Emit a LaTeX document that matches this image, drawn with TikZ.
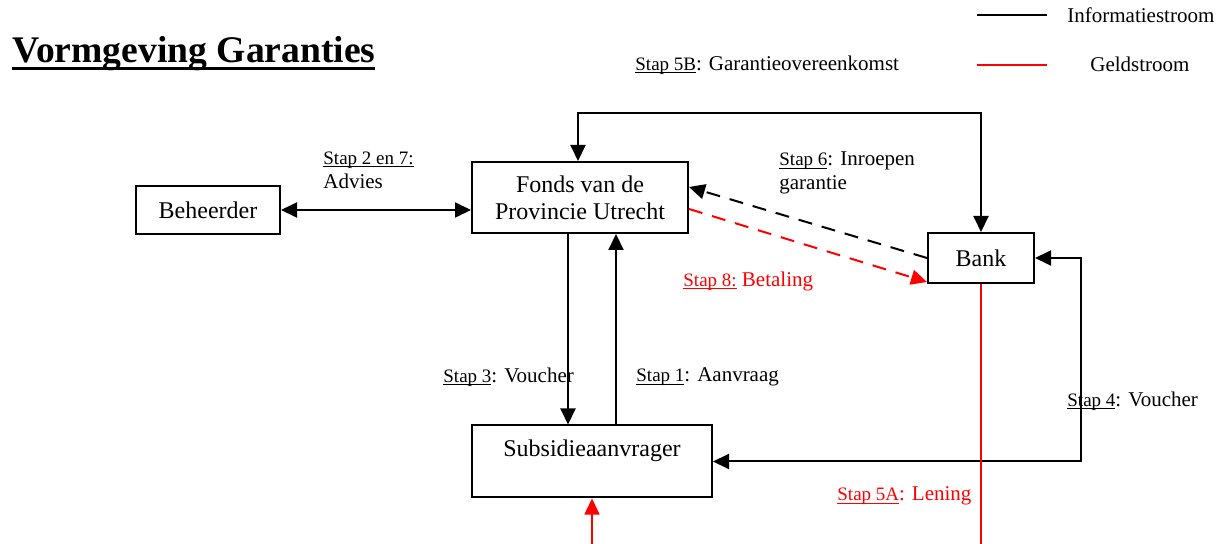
\documentclass[tikz,border=0pt]{standalone}
\usepackage{fontspec}
\setmainfont{Liberation Serif}
\usetikzlibrary{arrows.meta,calc}
\newcommand{\ulx}[1]{\setbox0\hbox{#1}\rlap{\rule[-1.6pt]{\wd0}{0.5pt}}\box0}
\newcommand{\stp}[1]{{\fontsize{9.5pt}{12pt}\selectfont\ulx{#1}}}
\newcommand{\titleul}[1]{\setbox0\hbox{#1}\rlap{\rule[-3.4pt]{\wd0}{1.6pt}}\box0}
\tikzset{
  box/.style={draw, line width=1pt, inner sep=0pt, align=center, font=\fontsize{12pt}{13.5pt}\selectfont},
  lbl/.style={inner sep=0pt, anchor=west, align=left, font=\fontsize{10.5pt}{12pt}\selectfont},
  tip/.style={-{Triangle[length=8pt,width=7.5pt]}},
  tips/.style={{Triangle[length=8pt,width=7.5pt]}-{Triangle[length=8pt,width=7.5pt]}},
  info/.style={line width=1pt, black},
  geld/.style={line width=0.8pt, red},
  dsh/.style={dashed, dash pattern=on 7pt off 5pt, line width=1pt},
}
\begin{document}
\begin{tikzpicture}[x=0.5pt,y=-0.5pt]
\useasboundingbox (0,0) rectangle (1225,544);
\clip (0,0) rectangle (1225,544);
% title
\node[inner sep=0pt, anchor=base west, font=\fontsize{18.8pt}{20pt}\selectfont\bfseries] (title) at (12,63) {\titleul{Vormgeving Garanties}};
% legend
\coordinate (li1) at (977,15);
\coordinate (li2) at (1047,15);
\coordinate (lg1) at (977,65);
\coordinate (lg2) at (1047,65);
\draw[info] (li1) -- (li2);
\draw[geld] (lg1) -- (lg2);
\node[lbl] (linfo) at (1067,15) {Informatiestroom};
\node[lbl] (lgeld) at (1090,64) {Geldstroom};
\node[lbl] (s5b) at (635,65) {\stp{Stap 5B}: Garantieovereenkomst};
% boxes
\node[box, minimum width=72pt, minimum height=24pt] (beh) at (208,210) {Beheerder};
\node[box, minimum width=108pt, minimum height=35.5pt] (fonds) at (580,197.5) {Fonds van de\\Provincie Utrecht};
\node[box, minimum width=53pt, minimum height=25pt] (bank) at (981,258) {Bank};
\node[box, minimum width=120pt, minimum height=36pt] (sub) at (592,461.5) {Subsidieaanvrager\\\mbox{}};
% connectors
\draw[info, tips] (beh.east) -- (beh.east -| fonds.west);
\coordinate (topc) at (0,113);
\draw[info, tips] ($(fonds.north)+(-2,0)$) |- (topc -| bank.north) -- (bank.north);
\draw[info, tip, dsh] (bank.west) -- ($(fonds.east)+(0,-10.5)$);
\draw[geld, tip, dsh] ($(fonds.east)+(0,11.5)$) -- ($(bank.south west)+(0,-2)$);
\draw[info, tip] ($(fonds.south)+(-12,0)$) -- ($(sub.north)+(-24,0)$);
\draw[info, tip] ($(sub.north)+(24,0)$) -- ($(fonds.south)+(36,0)$);
\draw[info, tips] (bank.east) -- ++(46,0) |- (sub.east);
\coordinate (low) at (0,600);
\draw[geld, tip] (bank.south) |- (low -| sub.south) -- (sub.south);
% labels
\node[lbl] (l27) at (323,170) {\stp{Stap 2 en 7:}\\Advies};
\node[lbl] (l6) at (779,173) {\stp{Stap 6}: Inroepen\\garantie};
\node[lbl, red] (l8) at (683,281) {\stp{Stap 8:} Betaling};
\node[lbl] (l3) at (443,377) {\stp{Stap 3}: Voucher};
\node[lbl] (l1) at (636,377) {\stp{Stap 1}: Aanvraag};
\node[lbl] (l4) at (1067,401) {\stp{Stap 4}: Voucher};
\node[lbl, red] (l5a) at (837,496) {\stp{Stap 5A}: Lening};
\end{tikzpicture}
\end{document}
